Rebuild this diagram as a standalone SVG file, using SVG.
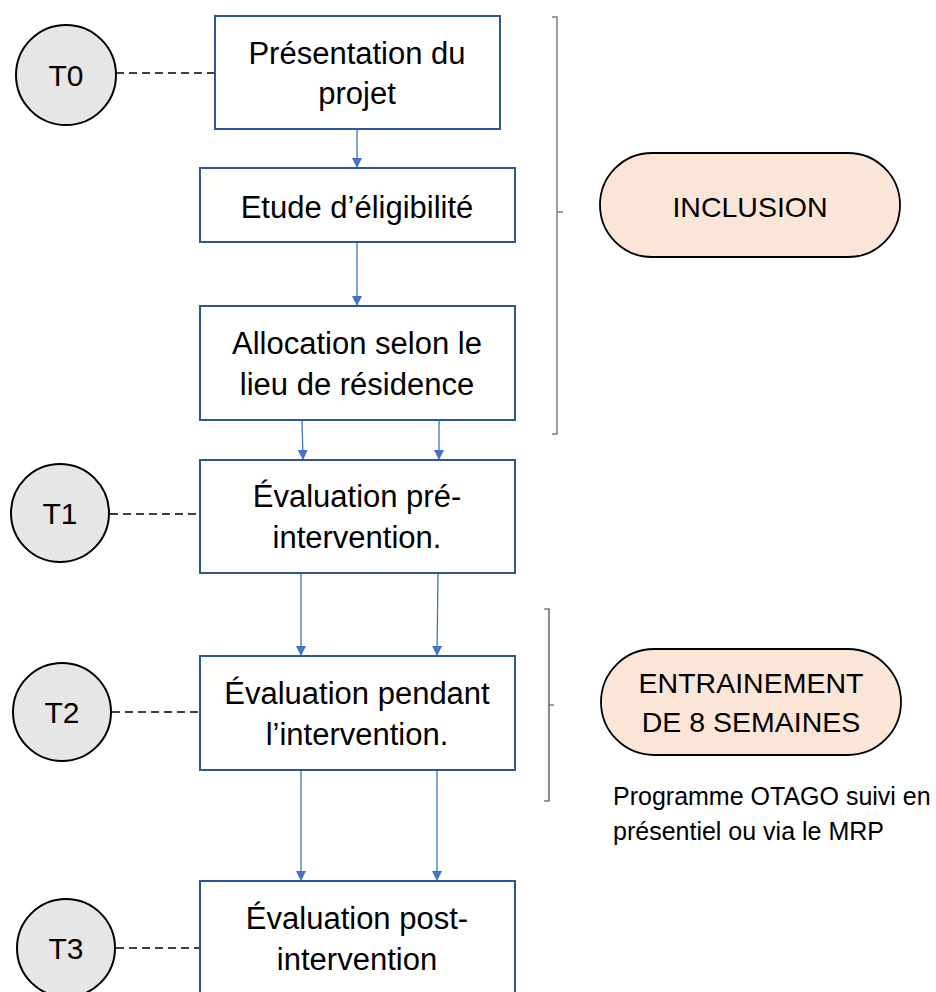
<svg xmlns="http://www.w3.org/2000/svg" width="936" height="992" viewBox="0 0 936 992">
<style>
  .box { fill: #ffffff; stroke: #2f5597; stroke-width: 2; }
  .circ { fill: #e7e6e6; stroke: #000000; stroke-width: 2; }
  .pill { fill: #fbe5d6; stroke: #000000; stroke-width: 1.8; }
  .dash { stroke: #000000; stroke-width: 1.5; stroke-dasharray: 8 5; fill: none; }
  .arrow { stroke: #4472c4; stroke-width: 1.3; fill: none; marker-end: url(#ah); }
  .br1 { stroke: #7f7f7f; stroke-width: 1.5; fill: none; }
  .br2 { stroke: #404040; stroke-width: 1.2; fill: none; }
  text { font-family: "Liberation Sans", Arial, sans-serif; fill: #000000; }
  .bt { font-size: 31px; text-anchor: middle; }
  .ct { font-size: 30px; text-anchor: middle; }
  .pt { font-size: 28.5px; text-anchor: middle; }
  .note { font-size: 25px; }
</style>
<defs>
  <marker id="ah" viewBox="0 0 10 10" refX="10" refY="5" markerWidth="10" markerHeight="10" markerUnits="userSpaceOnUse" orient="auto">
    <path d="M0,0 L10,5 L0,10 z" fill="#4472c4"/>
  </marker>
</defs>

<g id="connectors">
  <line class="arrow" x1="357" y1="129" x2="357" y2="168"/>
  <line class="arrow" x1="357" y1="242" x2="357" y2="306"/>
  <line class="arrow" x1="302" y1="420" x2="303" y2="460"/>
  <line class="arrow" x1="439" y1="420" x2="439" y2="460"/>
  <line class="arrow" x1="301" y1="573" x2="301" y2="656"/>
  <line class="arrow" x1="438" y1="573" x2="437" y2="656"/>
  <line class="arrow" x1="301" y1="770" x2="301" y2="881"/>
  <line class="arrow" x1="437" y1="770" x2="437" y2="881"/>
  <line class="dash" x1="116" y1="73" x2="215" y2="73"/>
  <line class="dash" x1="110" y1="514" x2="200" y2="514"/>
  <line class="dash" x1="112" y1="712" x2="200" y2="712"/>
  <line class="dash" x1="116" y1="948" x2="200" y2="948"/>
</g>

<g id="bracket-inclusion">
  <path class="br1" d="M552,17 H557 V434 H552 M557,212 H563"/>
</g>
<g id="bracket-entrainement">
  <path class="br2" d="M544,609 H549 V801 H544 M549,705 H554"/>
</g>

<g id="box-presentation">
  <rect class="box" x="215" y="16" width="285" height="113"/>
  <text class="bt" x="357" y="64">Présentation du</text>
  <text class="bt" x="357" y="104">projet</text>
</g>
<g id="box-etude">
  <rect class="box" x="200" y="168" width="315" height="74"/>
  <text class="bt" x="357" y="218">Etude d’éligibilité</text>
</g>
<g id="box-allocation">
  <rect class="box" x="200" y="306" width="315" height="114"/>
  <text class="bt" x="357" y="354">Allocation selon le</text>
  <text class="bt" x="357" y="395">lieu de résidence</text>
</g>
<g id="box-pre">
  <rect class="box" x="200" y="460" width="315" height="113"/>
  <text class="bt" x="357" y="507">Évaluation pré-</text>
  <text class="bt" x="357" y="548">intervention.</text>
</g>
<g id="box-pendant">
  <rect class="box" x="200" y="656" width="315" height="114"/>
  <text class="bt" x="357" y="704">Évaluation pendant</text>
  <text class="bt" x="357" y="745">l’intervention.</text>
</g>
<g id="box-post">
  <rect class="box" x="200" y="881" width="315" height="130"/>
  <text class="bt" x="357" y="929">Évaluation post-</text>
  <text class="bt" x="357" y="970">intervention</text>
</g>

<g id="t0">
  <circle class="circ" cx="66" cy="75" r="50"/>
  <text class="ct" x="66" y="86">T0</text>
</g>
<g id="t1">
  <circle class="circ" cx="60" cy="513" r="49"/>
  <text class="ct" x="60" y="524">T1</text>
</g>
<g id="t2">
  <circle class="circ" cx="62" cy="712" r="49"/>
  <text class="ct" x="62" y="723">T2</text>
</g>
<g id="t3">
  <circle class="circ" cx="66" cy="948" r="49"/>
  <text class="ct" x="66" y="959">T3</text>
</g>

<g id="inclusion">
  <rect class="pill" x="600" y="153" width="300" height="104" rx="52" ry="52"/>
  <text class="pt" x="750" y="217">INCLUSION</text>
</g>
<g id="entrainement">
  <rect class="pill" x="601" y="649" width="300" height="106" rx="53" ry="53"/>
  <text class="pt" x="751" y="693">ENTRAINEMENT</text>
  <text class="pt" x="751" y="732">DE 8 SEMAINES</text>
</g>
<g id="note">
  <text class="note" x="613" y="805">Programme OTAGO suivi en</text>
  <text class="note" x="613" y="840">présentiel ou via le MRP</text>
</g>
</svg>
